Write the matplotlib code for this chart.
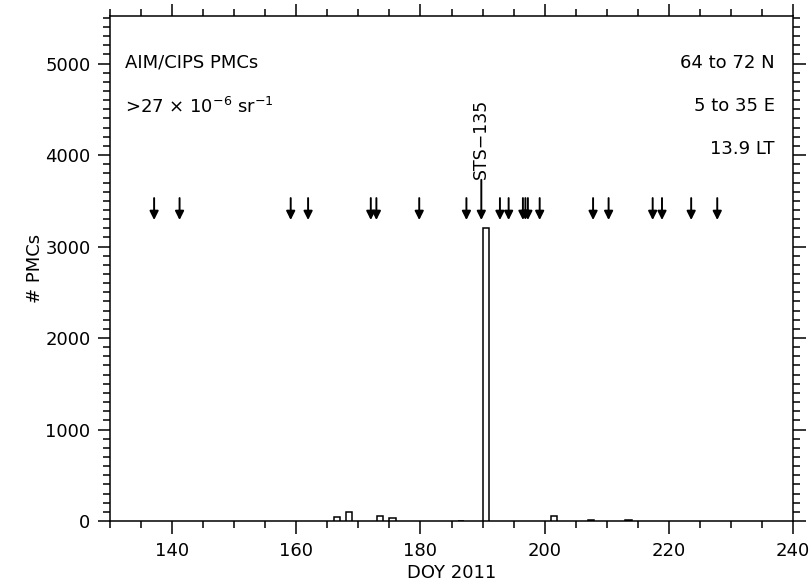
import matplotlib
matplotlib.use("Agg")
import matplotlib.pyplot as plt
from matplotlib.ticker import MultipleLocator

plt.rcParams['font.family'] = ['DejaVu Sans']
plt.rcParams['mathtext.default'] = 'regular'

# Daily PMC counts (bars span one day, starting at the listed DOY)
bar_doy = [166, 168, 173, 175, 186, 190, 201, 207, 213]
bar_counts = [40, 100, 50, 35, 5, 3200, 50, 10, 10]

# Days of shuttle / rocket launches marked with arrows
launch_doy = [137.1, 141.2, 159.1, 161.9, 172.0, 172.9, 179.8, 187.4,
              192.8, 194.2, 196.5, 196.9, 197.3, 199.2, 207.8, 210.3,
              217.4, 218.9, 223.6, 227.8]
sts_doy = 189.8
sts_label = "STS\u2212135"

left_notes = ["AIM/CIPS PMCs", r">27 $\times$ 10$^{-6}$ sr$^{-1}$"]
right_notes = ["64 to 72 N", "5 to 35 E", "13.9 LT"]

fig = plt.figure(figsize=(8.12, 5.85), dpi=100)
ax = fig.add_axes([0.1355, 0.1094, 0.8411, 0.8632])

ax.bar(bar_doy, bar_counts, width=1.0, align='edge', facecolor='white',
       edgecolor='black', linewidth=1.1, zorder=3)

arrow_top, arrow_tip = 3530, 3290
arrow_props = dict(arrowstyle='-|>', color='black', lw=1.4,
                   mutation_scale=13, shrinkA=0, shrinkB=0)
for d in launch_doy:
    ax.annotate("", xy=(d, arrow_tip), xytext=(d, arrow_top),
                arrowprops=arrow_props)
ax.annotate("", xy=(sts_doy, arrow_tip), xytext=(sts_doy, 3730),
            arrowprops=arrow_props)
ax.text(sts_doy, 3740, sts_label, rotation=90, ha='center', va='bottom',
        fontsize=12.5)

ax.set_xlim(130, 240)
ax.set_ylim(0, 5520)
ax.xaxis.set_major_locator(MultipleLocator(20))
ax.xaxis.set_minor_locator(MultipleLocator(5))
ax.yaxis.set_major_locator(MultipleLocator(1000))
ax.yaxis.set_minor_locator(MultipleLocator(100))

ax.tick_params(which='both', direction='out', top=True, right=True,
               labeltop=False, labelright=False, width=1.1, labelsize=13)
ax.tick_params(which='major', length=9)
ax.tick_params(which='minor', length=5)
ax.tick_params(axis='x', which='major', pad=6)
ax.tick_params(axis='y', which='major', pad=5)
for s in ax.spines.values():
    s.set_linewidth(1.1)

ax.set_xlabel("DOY 2011", fontsize=13, labelpad=3)
ax.set_ylabel("# PMCs", fontsize=13, labelpad=1)

ax.text(0.022, 0.907, left_notes[0], transform=ax.transAxes, fontsize=13,
        ha='left', va='center')
ax.text(0.022, 0.820, left_notes[1], transform=ax.transAxes, fontsize=13,
        ha='left', va='center')
for i, t in enumerate(right_notes):
    ax.text(0.973, 0.907 - 0.085 * i, t, transform=ax.transAxes, fontsize=13,
            ha='right', va='center')

fig.savefig("out.png", dpi=100)
